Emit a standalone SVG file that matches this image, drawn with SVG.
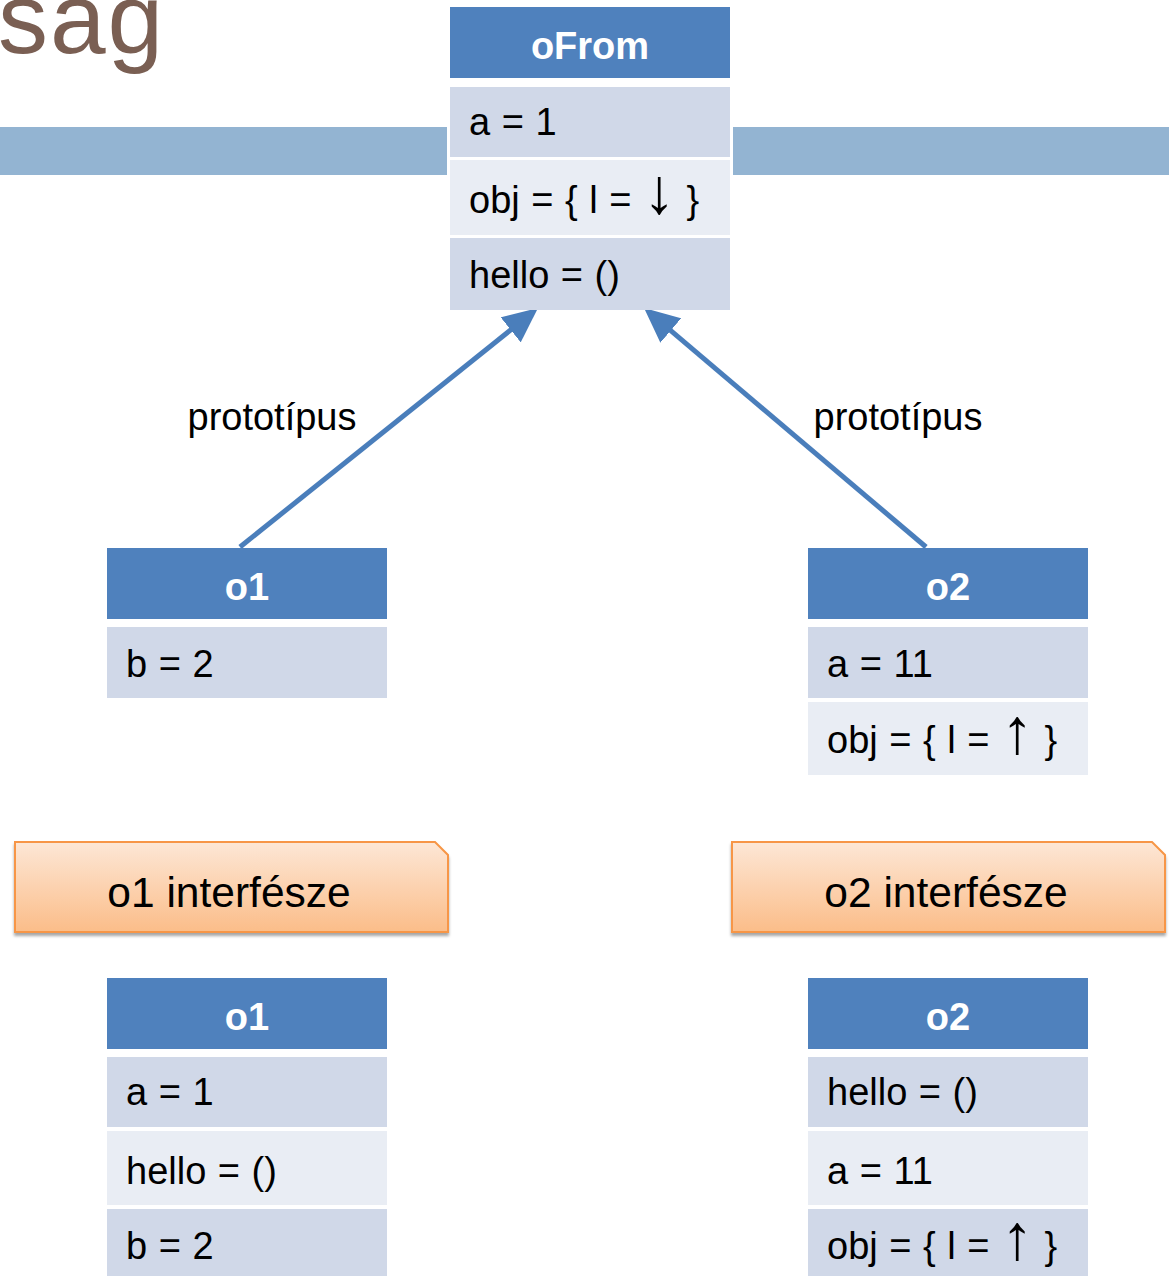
<svg xmlns="http://www.w3.org/2000/svg" width="1169" height="1276" viewBox="0 0 1169 1276">
  <style>
    .hdr { fill: #4f81bd; }
    .rowA { fill: #d0d8e8; }
    .rowB { fill: #e9edf4; }
    .htxt { font-family: "Liberation Sans", Arial, sans-serif; font-weight: bold; font-size: 38px; fill: #ffffff; text-anchor: middle; }
    .rtxt { font-family: "Liberation Sans", Arial, sans-serif; font-size: 38px; fill: #000000; word-spacing: 1px; }
    .arw { font-size: 64px; }
    .lbl { font-family: "Liberation Sans", Arial, sans-serif; font-size: 38px; fill: #000000; text-anchor: middle; }
    .itxt { font-family: "Liberation Sans", Arial, sans-serif; font-size: 42.5px; fill: #000000; text-anchor: middle; }
    .conn { stroke: #4a7ebb; stroke-width: 5; fill: none; marker-end: url(#arrow); }
    .iface { fill: url(#orangeGrad); stroke: #f79646; stroke-width: 2; filter: url(#shadow); }
  </style>
  <defs>
    <marker id="arrow" markerUnits="userSpaceOnUse" viewBox="0 0 35 32" markerWidth="35" markerHeight="32" refX="15" refY="16" orient="auto">
      <path d="M0,0 L35,16 L0,32 z" fill="#4a7ebb"/>
    </marker>
    <linearGradient id="orangeGrad" x1="0" y1="0" x2="0" y2="1">
      <stop offset="0" stop-color="#fde7d6"/>
      <stop offset="1" stop-color="#fbbd89"/>
    </linearGradient>
    <filter id="shadow" x="-5%" y="-10%" width="110%" height="130%">
      <feGaussianBlur in="SourceAlpha" stdDeviation="1.5"/>
      <feOffset dx="0" dy="3" result="b"/>
      <feComponentTransfer><feFuncA type="linear" slope="0.35"/></feComponentTransfer>
      <feMerge><feMergeNode/><feMergeNode in="SourceGraphic"/></feMerge>
    </filter>
  </defs>

  <rect width="1169" height="1276" fill="#ffffff"/>

  <!-- title fragment and band -->
  <text x="-2" y="53" font-family="Liberation Sans, Arial, sans-serif" font-size="100" fill="#7a5f53" letter-spacing="2">sag</text>
  <rect x="0" y="127" width="447" height="48" fill="#93b4d2"/>
  <rect x="733" y="127" width="436" height="48" fill="#93b4d2"/>

  <!-- connectors -->
  <g id="connectors">
    <line class="conn" x1="240" y1="547" x2="522.4" y2="320.5"/>
    <line class="conn" x1="926" y1="547" x2="659.3" y2="320.9"/>
    <text class="lbl" x="272" y="430">prototípus</text>
    <text class="lbl" x="898" y="430">prototípus</text>
  </g>

  <!-- oFrom -->
  <g id="oFrom">
    <rect class="hdr" x="450" y="7" width="280" height="71"/>
    <text class="htxt" x="590" y="59">oFrom</text>
    <rect class="rowA" x="450" y="87" width="280" height="70"/>
    <text class="rtxt" x="469" y="135">a = 1</text>
    <rect class="rowB" x="450" y="160" width="280" height="75"/>
    <text class="rtxt" x="469" y="213">obj = { l = <tspan class="arw">↓</tspan> }</text>
    <rect class="rowA" x="450" y="238" width="280" height="72"/>
    <text class="rtxt" x="469" y="288">hello = ()</text>
  </g>

  <!-- o1 -->
  <g id="o1">
    <rect class="hdr" x="107" y="548" width="280" height="71"/>
    <text class="htxt" x="247" y="600">o1</text>
    <rect class="rowA" x="107" y="627" width="280" height="71"/>
    <text class="rtxt" x="126" y="677">b = 2</text>
  </g>

  <!-- o2 -->
  <g id="o2">
    <rect class="hdr" x="808" y="548" width="280" height="71"/>
    <text class="htxt" x="948" y="600">o2</text>
    <rect class="rowA" x="808" y="627" width="280" height="71"/>
    <text class="rtxt" x="827" y="677">a = 11</text>
    <rect class="rowB" x="808" y="702" width="280" height="73"/>
    <text class="rtxt" x="827" y="753">obj = { l = <tspan class="arw">↑</tspan> }</text>
  </g>

  <!-- o1 interface label -->
  <g id="o1-interface">
    <path class="iface" d="M15,842 L435,842 L448,855 L448,932 L15,932 z"/>
    <text class="itxt" x="229" y="907">o1 interfésze</text>
  </g>

  <!-- o2 interface label -->
  <g id="o2-interface">
    <path class="iface" d="M732,842 L1152,842 L1165,855 L1165,932 L732,932 z"/>
    <text class="itxt" x="946" y="907">o2 interfésze</text>
  </g>

  <!-- o1 interface table -->
  <g id="o1-view">
    <rect class="hdr" x="107" y="978" width="280" height="71"/>
    <text class="htxt" x="247" y="1030">o1</text>
    <rect class="rowA" x="107" y="1057" width="280" height="70"/>
    <text class="rtxt" x="126" y="1105">a = 1</text>
    <rect class="rowB" x="107" y="1131" width="280" height="74"/>
    <text class="rtxt" x="126" y="1184">hello = ()</text>
    <rect class="rowA" x="107" y="1209" width="280" height="67"/>
    <text class="rtxt" x="126" y="1259">b = 2</text>
  </g>

  <!-- o2 interface table -->
  <g id="o2-view">
    <rect class="hdr" x="808" y="978" width="280" height="71"/>
    <text class="htxt" x="948" y="1030">o2</text>
    <rect class="rowA" x="808" y="1057" width="280" height="70"/>
    <text class="rtxt" x="827" y="1105">hello = ()</text>
    <rect class="rowB" x="808" y="1131" width="280" height="74"/>
    <text class="rtxt" x="827" y="1184">a = 11</text>
    <rect class="rowA" x="808" y="1209" width="280" height="67"/>
    <text class="rtxt" x="827" y="1259">obj = { l = <tspan class="arw">↑</tspan> }</text>
  </g>
</svg>
